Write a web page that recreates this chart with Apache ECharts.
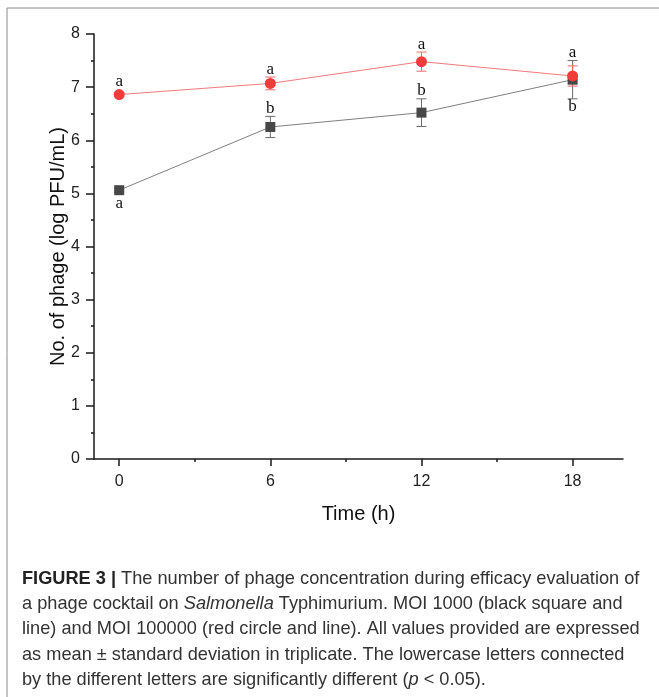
<!DOCTYPE html>
<html>
<head>
<meta charset="utf-8">
<script src="https://cdn.jsdelivr.net/npm/echarts@6/dist/echarts.min.js"></script>
<style>
  html, body { margin: 0; padding: 0; background: #fff; }
  #chart { width: 659px; height: 697px; }
</style>
</head>
<body>
<div id="chart"></div>
<script>
// sampling times (h)
const times = [0, 6, 12, 18]
const xTickLabels = [0, 6, 12, 18]
const xMinorTicks = [3, 9, 15]

// MOI 1000 - black squares
const moi1000Mean = [5.06, 6.25, 6.52, 7.14]
const moi1000Sd = [0.03, 0.2, 0.26, 0.36]
const moi1000Letters = ['a', 'b', 'b', 'b']
const moi1000Side = ['below', 'above', 'above', 'below']

// MOI 100000 - red circles
const moi100000Mean = [6.86, 7.07, 7.48, 7.21]
const moi100000Sd = [0.03, 0.12, 0.18, 0.19]
const moi100000Letters = ['a', 'a', 'a', 'a']
const moi100000Side = ['above', 'above', 'above', 'above']

const captionLines = [
  '{b|FIGURE 3 |} The number of phage concentration during efficacy evaluation of',
  'a phage cocktail on {i|Salmonella} Typhimurium. MOI 1000 (black square and',
  'line) and MOI 100000 (red circle and line). All values provided are expressed',
  'as mean \u00b1 standard deviation in triplicate. The lowercase letters connected',
  'by the different letters are significantly different ({i|p} < 0.05).'
]

const RED = '#f23b3b'
const DARK = '#474747'
const SANS = 'Liberation Sans, Arial, sans-serif'
const SERIF = 'Liberation Serif, Times New Roman, serif'

function errorBars (means, sds, color) {
  return {
    type: 'custom',
    z: 2,
    silent: true,
    data: times.map((t, i) => [t, means[i] - sds[i], means[i] + sds[i]]),
    renderItem (params, api) {
      const lo = api.coord([api.value(0), api.value(1)])
      const hi = api.coord([api.value(0), api.value(2)])
      const w = 5
      const style = { stroke: color, lineWidth: 1 }
      return {
        type: 'group',
        children: [
          { type: 'line', shape: { x1: hi[0], y1: hi[1], x2: lo[0], y2: lo[1] }, style },
          { type: 'line', shape: { x1: hi[0] - w, y1: hi[1], x2: hi[0] + w, y2: hi[1] }, style },
          { type: 'line', shape: { x1: lo[0] - w, y1: lo[1], x2: lo[0] + w, y2: lo[1] }, style }
        ]
      }
    }
  }
}

// letters sit just past the end of the error bar (or the marker, whichever is bigger)
function letterSeries (means, sds, letters, sides, radius, others) {
  return {
    type: 'custom',
    z: 5,
    silent: true,
    data: times.map((t, i) => {
      let ext
      if (sides[i] === 'above') {
        ext = means[i] + sds[i]
        others.forEach(o => { ext = Math.max(ext, o.mean[i] + o.sd[i]) })
      } else {
        ext = means[i] - sds[i]
      }
      return [t, means[i], ext]
    }),
    renderItem (params, api) {
      const i = params.dataIndex
      const c = api.coord([api.value(0), api.value(1)])
      const e = api.coord([api.value(0), api.value(2)])
      const d = Math.max(Math.abs(e[1] - c[1]), radius) + 8
      const y = sides[i] === 'above' ? c[1] - d : c[1] + d
      return {
        type: 'text',
        x: c[0],
        y: y,
        style: {
          text: letters[i],
          fontFamily: SERIF,
          fontSize: 17,
          fill: '#111',
          align: 'center',
          verticalAlign: 'middle'
        }
      }
    }
  }
}

const chart = echarts.init(document.getElementById('chart'))

const axisLineStyle = { color: '#1a1a1a', width: 1.5 }
const tickStyle = { color: '#1a1a1a', width: 1.5 }

const option = {
  backgroundColor: '#fff',
  animation: false,
  grid: { left: 94, right: 36, top: 34, bottom: 238 },
  xAxis: [{
    type: 'value',
    min: -1,
    max: 20,
    name: 'Time (h)',
    nameLocation: 'middle',
    nameGap: 45,
    nameMoveOverlap: false,
    nameTextStyle: { fontFamily: SANS, fontSize: 20, color: '#111' },
    axisLine: { onZero: false, lineStyle: axisLineStyle },
    axisTick: { show: true, length: 7, lineStyle: tickStyle, customValues: xTickLabels },
    axisLabel: { fontFamily: SANS, fontSize: 16, color: '#222', margin: 15, customValues: xTickLabels },
    splitLine: { show: false }
  }, {
    type: 'value',
    min: -1,
    max: 20,
    position: 'bottom',
    axisLine: { show: false },
    axisTick: { show: true, length: 3, lineStyle: tickStyle, customValues: xMinorTicks },
    axisLabel: { show: false },
    splitLine: { show: false }
  }],
  yAxis: {
    type: 'value',
    min: 0,
    max: 8,
    interval: 1,
    name: 'No. of phage (log PFU/mL)',
    nameLocation: 'middle',
    nameGap: 26,
    nameMoveOverlap: false,
    nameTextStyle: { fontFamily: SANS, fontSize: 20, color: '#111' },
    axisLine: { show: true, onZero: false, lineStyle: axisLineStyle },
    axisTick: { show: true, length: 8, lineStyle: tickStyle },
    minorTick: { show: true, splitNumber: 2, length: 3, lineStyle: tickStyle },
    axisLabel: { fontFamily: SANS, fontSize: 16, color: '#222', margin: 14 },
    splitLine: { show: false }
  },
  series: [
    errorBars(moi1000Mean, moi1000Sd, '#6a6a6a'),
    errorBars(moi100000Mean, moi100000Sd, '#f06a6a'),
    {
      name: 'MOI 1000',
      type: 'line',
      z: 3,
      data: times.map((t, i) => [t, moi1000Mean[i]]),
      symbol: 'rect',
      symbolSize: 10,
      itemStyle: { color: DARK },
      lineStyle: { color: '#808080', width: 1 }
    },
    {
      name: 'MOI 100000',
      type: 'line',
      z: 4,
      data: times.map((t, i) => [t, moi100000Mean[i]]),
      symbol: 'circle',
      symbolSize: 11,
      itemStyle: { color: RED },
      lineStyle: { color: '#f27a7a', width: 1 }
    },
    letterSeries(moi1000Mean, moi1000Sd, moi1000Letters, moi1000Side, 5, []),
    letterSeries(moi100000Mean, moi100000Sd, moi100000Letters, moi100000Side, 5.5,
      [{ mean: moi1000Mean, sd: moi1000Sd }])
  ],
  graphic: [
    // figure frame
    { type: 'line', shape: { x1: 7, y1: 8, x2: 659, y2: 8 }, style: { stroke: '#8a8a8a', lineWidth: 1 } },
    { type: 'line', shape: { x1: 7, y1: 8, x2: 7, y2: 697 }, style: { stroke: '#8a8a8a', lineWidth: 1 } }
  ].concat(captionLines.map((line, i) => ({
    type: 'text',
    left: 22,
    top: 570 + i * 25.2,
    style: {
      text: line,
      fontFamily: SANS,
      fontSize: 18.2,
      fill: '#333',
      rich: {
        b: { fontFamily: SANS, fontSize: 18.2, fontWeight: 'bold', fill: '#222' },
        i: { fontFamily: SANS, fontSize: 18.2, fontStyle: 'italic', fill: '#333' }
      }
    }
  })))
}

chart.setOption(option)
</script>
</body>
</html>
